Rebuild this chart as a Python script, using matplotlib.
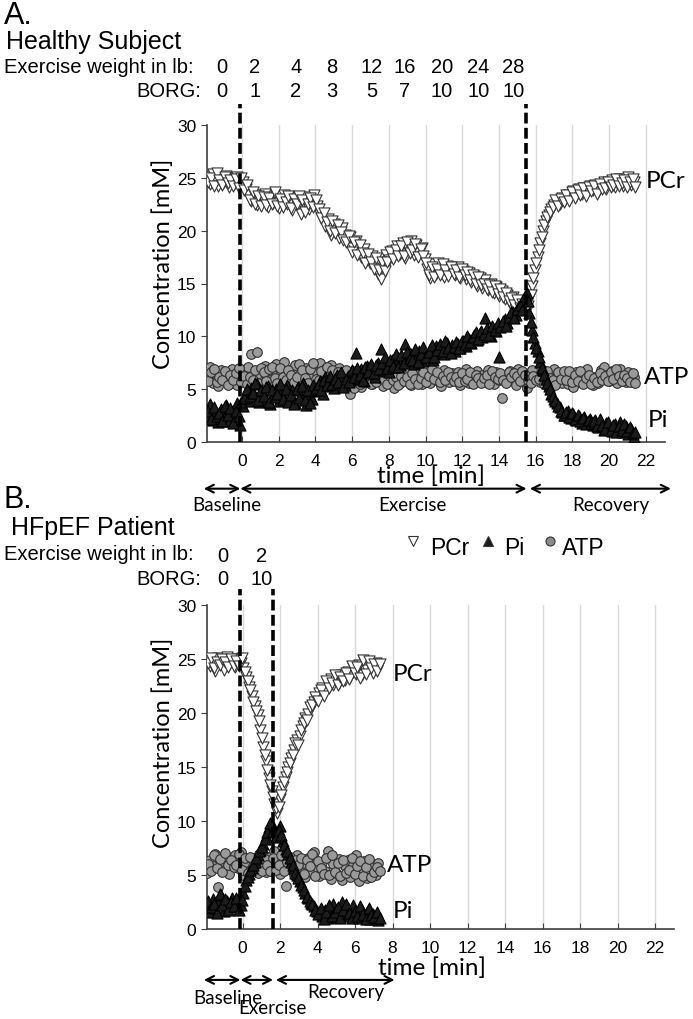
import numpy as np
import matplotlib.pyplot as plt
from matplotlib.lines import Line2D

plt.rcParams['font.family'] = ['Liberation Sans', 'DejaVu Sans']

# Healthy subject, one sample every 0.15 min from -1.9 min
pcr_a = [25.1, 24.4, 25.3, 24.7, 24.2, 25.0, 24.6, 25.2, 24.1, 24.9,
         24.5, 25.1, 24.3, 24.6, 23.9, 23.5, 22.8, 23.4, 22.4, 23.1,
         22.7, 23.5, 22.2, 23.0, 22.6, 23.3, 22.1, 22.9, 23.4, 22.5,
         22.8, 21.9, 23.1, 22.4, 21.6, 22.7, 23.2, 22.0, 22.8, 23.4,
         22.3, 21.5, 21.0, 20.4, 21.1, 19.6, 20.6, 20.0, 19.3, 20.2,
         19.6, 18.8, 19.4, 18.4, 19.0, 18.2, 17.5, 18.3, 17.2, 16.9,
         17.6, 16.8, 15.9, 15.4, 16.9, 17.7, 17.2, 18.1, 17.5, 18.5,
         17.8, 18.8, 17.4, 18.3, 19.0, 17.7, 18.6, 17.9, 18.4, 17.3,
         16.4, 15.5, 16.8, 15.9, 16.9, 16.2, 15.6, 16.7, 16.0, 16.5,
         15.8, 16.6, 15.5, 16.2, 15.4, 16.0, 15.1, 15.7, 14.8, 15.5,
         14.6, 15.3, 14.4, 15.0, 14.1, 14.7, 13.8, 14.3, 13.5, 13.9,
         13.2, 13.7, 12.9, 13.3, 12.6, 12.9, 12.4, 13.5, 14.8, 16.3,
         17.5, 18.8, 20.0, 20.9, 21.5, 22.0, 22.4, 22.7, 22.5, 23.1,
         22.9, 23.4, 23.2, 23.7, 23.3, 23.9, 23.5, 24.0, 23.6, 24.2,
         23.8, 24.3, 23.6, 24.1, 24.6, 23.9, 24.4, 24.8, 24.1, 24.5,
         24.9, 24.2, 24.7, 25.1, 24.3, 24.6]
pi_a = [2.4, 3.6, 2.1, 2.9, 1.9, 3.1, 2.3, 3.5, 2.0, 2.7,
        2.2, 3.7, 1.6, 3.4, 4.6, 3.9, 5.1, 4.3, 5.5, 3.8,
        4.8, 4.1, 5.3, 3.6, 4.5, 5.0, 3.9, 4.7, 4.2, 5.4,
        4.0, 4.9, 3.7, 5.2, 4.4, 5.6, 3.5, 4.6, 4.1, 4.8,
        5.0, 5.8, 4.6, 6.2, 5.3, 6.0, 5.1, 6.4, 5.6, 6.1,
        5.4, 6.3, 5.9, 6.6, 8.4, 6.0, 6.9, 5.8, 7.2, 6.5,
        7.0, 6.2, 7.5, 8.8, 6.7, 7.3, 6.6, 7.8, 7.1, 7.6,
        7.3, 8.0, 9.3, 7.6, 8.3, 7.4, 8.1, 8.6, 7.7, 8.4,
        8.0, 8.8, 7.8, 9.1, 8.4, 9.0, 8.3, 9.4, 8.7, 9.2,
        8.6, 9.3, 8.9, 9.6, 9.1, 9.8, 9.4, 10.1, 9.7, 10.3,
        9.9, 11.7, 10.4, 10.0, 10.7, 10.5, 8.1, 11.2, 11.6, 11.3,
        11.9, 12.3, 12.0, 12.7, 13.1, 13.5, 14.1, 12.2, 10.6, 9.4,
        8.6, 7.6, 6.8, 6.0, 5.3, 4.6, 4.1, 3.7, 3.3, 2.9,
        2.6, 3.0, 2.3, 2.7, 2.1, 2.5, 1.8, 2.4, 1.9, 2.2,
        1.6, 2.1, 1.4, 1.9, 1.2, 1.8, 1.5, 1.1, 1.7, 1.3,
        1.9, 1.0, 1.5, 0.8, 1.3, 0.5]
atp_a = [6.2, 7.1, 5.6, 6.5, 5.3, 6.8, 5.9, 6.3, 5.5, 6.9,
         6.0, 5.4, 6.6, 5.8, 6.9, 7.1, 8.3, 6.2, 8.5, 6.4,
         5.7, 7.2, 6.4, 5.9, 6.8, 7.4, 6.0, 6.5, 7.6, 6.3,
         5.8, 6.9, 7.3, 6.1, 5.5, 6.6, 7.0, 5.9, 6.4, 7.2,
         6.5, 7.5, 6.2, 6.9, 5.6, 7.3, 6.4, 5.8, 7.0, 6.1,
         5.4, 6.3, 4.6, 6.7, 5.7, 6.3, 5.2, 6.8, 5.9, 6.1,
         5.5, 6.4, 5.8, 6.9, 5.3, 6.2, 5.7, 6.6, 5.1, 6.0,
         5.6, 6.5, 5.9, 6.8, 5.4, 6.1, 5.8, 6.7, 5.5, 6.3,
         6.0, 5.6, 6.7, 5.9, 6.4, 5.3, 6.8, 6.1, 5.7, 6.5,
         5.9, 6.6, 5.4, 6.2, 6.9, 5.6, 6.3, 5.8, 6.7, 6.0,
         6.4, 5.7, 6.8, 6.1, 5.5, 6.6, 5.9, 4.2, 6.3, 5.8,
         6.7, 6.0, 5.4, 6.9, 6.2, 5.7, 5.1, 6.5, 6.8, 6.1,
         6.3, 5.7, 6.8, 6.0, 5.4, 6.5, 6.9, 5.8, 6.2, 5.6,
         6.4, 5.5, 6.1, 5.2, 6.6, 5.9, 6.3, 5.7, 6.9, 6.0,
         5.4, 6.2, 5.6, 6.8, 7.1, 6.4, 5.8, 6.7, 6.2, 5.6,
         6.9, 6.3, 5.7, 6.6, 6.0, 6.2]

# healthy subject, the in-between samples (0.075 min later)
pcr_a2 = [24.6, 25.0, 24.2, 25.4, 24.8, 24.3, 25.1, 24.5, 24.8, 24.2,
          24.9, 24.0, 25.0, 23.8, 24.3, 22.9, 23.6, 22.5, 23.3, 22.3,
          23.2, 22.4, 23.1, 22.5, 23.6, 22.3, 23.0, 22.2, 22.7, 23.3,
          22.1, 23.0, 22.5, 23.3, 22.9, 21.8, 22.5, 23.1, 22.2, 22.9,
          22.0, 21.2, 21.7, 20.8, 20.0, 20.9, 19.8, 20.5, 19.9, 19.1,
          18.9, 19.5, 18.0, 18.9, 17.7, 18.6, 17.9, 16.9, 17.8, 17.0,
          16.4, 17.4, 16.3, 17.0, 16.2, 17.0, 18.0, 17.3, 18.2, 17.6,
          18.5, 17.6, 18.9, 17.9, 18.2, 18.7, 17.5, 18.3, 17.6, 16.9,
          15.8, 16.6, 15.6, 16.4, 15.8, 16.8, 16.3, 15.7, 16.6, 15.9,
          16.3, 15.6, 16.4, 15.8, 16.1, 15.3, 15.8, 15.0, 15.6, 14.9,
          15.0, 14.5, 14.9, 14.2, 14.8, 14.0, 14.5, 13.7, 14.1, 13.3,
          13.6, 13.0, 13.4, 12.7, 13.1, 12.6, 12.9, 13.9, 15.5, 16.9,
          18.2, 19.4, 20.5, 21.3, 21.8, 22.2, 22.9, 22.3, 23.0, 22.7,
          23.4, 22.8, 23.6, 23.1, 23.8, 23.4, 24.0, 23.3, 24.1, 23.7,
          24.2, 23.5, 24.4, 23.9, 24.0, 24.6, 24.1, 24.3, 24.9, 24.2,
          24.5, 24.8, 24.1, 24.6, 24.9, 24.1]
pi_a2 = [3.0, 2.2, 3.3, 2.5, 2.8, 2.0, 3.4, 2.6, 3.2, 1.8,
         3.0, 2.5, 3.8, 4.2, 5.0, 4.4, 4.7, 5.6, 4.0, 4.9,
         4.4, 5.2, 3.8, 4.9, 4.3, 4.6, 5.5, 4.1, 5.0, 3.8,
         4.5, 3.6, 5.0, 4.2, 5.3, 4.0, 4.9, 3.7, 5.4, 5.1,
         5.5, 4.9, 5.9, 5.4, 6.3, 5.5, 6.0, 5.7, 6.6, 5.2,
         6.0, 5.7, 6.8, 6.2, 7.0, 6.4, 5.9, 7.1, 6.6, 7.4,
         6.5, 7.3, 6.9, 7.5, 8.1, 7.0, 7.8, 7.2, 8.3, 7.1,
         8.2, 7.5, 8.5, 8.0, 7.8, 8.8, 7.6, 8.3, 9.0, 8.1,
         8.5, 9.2, 8.1, 8.7, 9.3, 8.6, 9.6, 8.9, 8.4, 9.0,
         9.5, 8.9, 9.6, 9.3, 10.0, 9.5, 9.9, 10.4, 9.8, 10.5,
         10.2, 10.8, 10.1, 11.0, 10.6, 11.3, 10.9, 11.5, 11.0, 11.8,
         12.3, 11.7, 12.6, 13.0, 12.5, 13.8, 13.3, 11.4, 9.9, 8.9,
         8.1, 7.0, 6.4, 5.6, 5.0, 4.4, 3.9, 3.4, 3.0, 2.6,
         2.9, 2.4, 2.8, 2.2, 2.6, 2.0, 2.3, 1.7, 2.1, 1.8,
         2.0, 1.5, 2.2, 1.6, 1.3, 1.9, 1.2, 1.6, 1.0, 1.5,
         1.2, 1.7, 1.1, 1.4, 0.9, 1.0]
atp_a2 = [5.8, 6.6, 6.9, 5.7, 6.2, 5.9, 6.7, 5.4, 6.4, 5.9,
          6.5, 7.0, 5.7, 6.3, 5.5, 6.2, 5.9, 6.8, 5.6, 7.0,
          6.6, 5.8, 6.9, 7.1, 6.1, 5.6, 7.0, 6.2, 5.9, 6.8,
          6.4, 5.7, 6.2, 7.4, 6.8, 6.1, 5.6, 6.9, 7.5, 6.0,
          5.9, 6.7, 5.8, 7.1, 6.3, 6.8, 5.7, 6.6, 6.3, 5.6,
          6.8, 5.9, 6.4, 5.1, 6.2, 5.5, 6.5, 5.8, 6.4, 5.5,
          6.2, 5.7, 6.5, 6.0, 6.7, 5.5, 6.3, 5.9, 6.2, 5.4,
          6.3, 5.8, 6.2, 5.5, 6.5, 6.0, 5.5, 6.1, 6.6, 5.7,
          6.3, 6.9, 6.0, 6.6, 5.7, 6.3, 5.9, 6.6, 6.2, 5.8,
          6.2, 5.7, 6.5, 5.8, 6.0, 6.6, 5.5, 6.4, 6.1, 5.6,
          6.1, 6.4, 5.5, 6.7, 6.2, 6.0, 6.5, 5.9, 5.6, 6.6,
          6.2, 6.5, 6.3, 5.8, 6.7, 6.4, 5.9, 5.6, 6.3, 5.9,
          6.0, 6.6, 5.5, 6.7, 6.1, 5.9, 5.4, 6.6, 6.0, 6.7,
          5.9, 6.7, 5.7, 6.4, 5.8, 6.7, 5.5, 6.1, 6.4, 5.5,
          6.1, 5.7, 6.5, 5.9, 6.3, 5.8, 6.6, 6.0, 6.9, 6.3,
          5.8, 6.4, 6.1, 5.7, 6.5, 5.6]

# HFpEF patient, same sampling
pcr_b = [25.0, 24.3, 24.8, 23.9, 25.1, 24.5, 24.0, 25.2, 24.4, 24.9,
         24.2, 25.0, 24.6, 24.1, 23.3, 22.4, 21.6, 20.6, 19.8, 18.4,
         16.8, 15.5, 14.0, 12.8, 11.6, 10.7, 12.0, 13.1, 14.1, 15.0,
         15.8, 16.6, 17.5, 17.9, 18.8, 19.5, 19.9, 20.4, 21.0, 21.3,
         21.8, 22.3, 21.9, 22.7, 23.1, 22.6, 23.4, 22.8, 23.5, 23.0,
         23.8, 23.3, 24.1, 23.6, 24.4, 23.5, 24.7, 24.0, 24.3, 23.7,
         24.6, 24.1]
pi_b = [2.1, 1.6, 2.8, 1.9, 2.4, 3.1, 1.7, 2.6, 2.0, 2.9,
        2.3, 2.7, 2.2, 3.3, 4.5, 5.1, 5.6, 6.2, 6.8, 7.3,
        7.9, 8.6, 9.4, 9.7, 9.2, 8.8, 9.5, 8.1, 7.4, 6.9,
        6.2, 5.6, 5.0, 4.4, 3.9, 3.3, 2.9, 2.4, 2.1, 1.7,
        1.5, 1.2, 1.8, 1.0, 1.4, 2.3, 1.1, 1.7, 2.5, 1.3,
        1.9, 1.2, 2.2, 1.5, 1.0, 1.8, 1.3, 1.6, 0.9, 1.4,
        1.2, 0.8]
atp_b = [5.2, 6.4, 5.8, 6.9, 3.9, 6.1, 5.5, 6.7, 5.1, 6.3,
         6.8, 5.6, 7.1, 5.0, 6.2, 5.4, 6.6, 5.9, 5.2, 6.5,
         6.0, 5.3, 6.7, 5.8, 7.2, 6.4, 5.1, 6.9, 4.0, 5.6,
         6.3, 5.0, 6.8, 5.5, 6.1, 4.8, 6.6, 5.3, 7.1, 5.7,
         4.9, 6.2, 5.4, 7.2, 4.6, 6.0, 5.2, 6.5, 4.5, 5.8,
         6.4, 4.8, 5.9, 6.8, 4.4, 5.6, 6.3, 4.7, 5.5, 6.0,
         5.0, 6.1]

pcr_b2 = [24.6, 25.1, 24.1, 24.7, 24.4, 25.0, 24.7, 24.2, 25.0, 24.3,
          24.8, 24.3, 25.1, 23.8, 22.9, 22.1, 21.0, 20.2, 19.2, 17.7,
          16.1, 14.7, 13.3, 12.2, 11.2, 11.3, 12.4, 13.6, 14.5, 15.4,
          16.1, 17.2, 17.0, 18.4, 19.1, 19.3, 20.5, 20.7, 21.5, 21.1,
          22.1, 21.6, 22.9, 22.3, 22.8, 23.5, 22.6, 23.3, 22.9, 23.7,
          23.1, 24.3, 23.7, 24.2, 23.2, 24.9, 23.6, 24.8, 24.1, 24.5,
          23.9, 24.5]
pi_b2 = [2.6, 2.0, 2.3, 1.5, 3.2, 2.2, 2.8, 1.8, 2.5, 2.1,
         2.9, 1.8, 2.7, 4.0, 4.8, 5.5, 5.9, 6.6, 7.2, 7.6,
         8.3, 9.0, 9.8, 9.1, 8.5, 9.2, 8.7, 7.8, 7.2, 6.6,
         5.9, 5.2, 4.7, 4.1, 3.6, 3.0, 2.6, 2.3, 1.8, 1.4,
         1.9, 0.9, 1.6, 2.2, 1.2, 1.6, 2.0, 1.0, 1.8, 2.3,
         1.5, 1.0, 1.7, 1.2, 2.1, 1.4, 0.9, 1.9, 1.3, 1.1,
         1.6, 1.0]
atp_b2 = [6.0, 5.4, 6.8, 5.6, 6.5, 5.3, 7.0, 5.9, 6.4, 5.7,
          5.9, 6.9, 5.5, 6.6, 5.2, 6.7, 5.8, 6.2, 6.9, 5.4,
          6.5, 5.9, 5.4, 6.6, 5.5, 5.9, 6.8, 5.4, 6.2, 6.7,
          5.4, 6.4, 5.9, 6.6, 5.1, 6.4, 5.8, 6.9, 4.9, 6.3,
          5.6, 5.1, 6.6, 5.0, 6.8, 5.3, 6.1, 4.9, 6.4, 5.2,
          5.5, 6.6, 5.1, 5.8, 6.3, 4.9, 5.7, 6.5, 4.8, 5.3,
          5.7, 5.4]

weight_a = ["0", "2", "4", "8", "12", "16", "20", "24", "28"]
borg_a = ["0", "1", "2", "3", "5", "7", "10", "10", "10"]
weight_b = ["0", "2"]
borg_b = ["0", "10"]

# sampling grid: 0.15 min steps, second set shifted by half a step
t_a = -1.9 + 0.15 * np.arange(len(pcr_a))
t_b = -1.9 + 0.15 * np.arange(len(pcr_b))
t_all_a = np.concatenate([t_a, t_a + 0.075])
t_all_b = np.concatenate([t_b, t_b + 0.075])

W, H = 693, 1020
fig = plt.figure(figsize=(W / 100, H / 100), dpi=100)


def fx(px):
    return px / W


def fy(py):
    return 1 - py / H


CAL = ['Lato', 'DejaVu Sans']

ax_a = fig.add_axes([fx(206.7), fy(443.3), (665 - 206.7) / W, (443.3 - 125.7) / H])
ax_b = fig.add_axes([fx(206.7), fy(930), (674 - 206.7) / W, (930 - 605.7) / H])


def panel(ax, t, pcr, pi, atp, xlim, dash_x, dash_top):
    ax.scatter(t, pcr, marker='v', s=64, facecolor='white', edgecolor='#333333',
               linewidths=0.8, zorder=3)
    ax.scatter(t, atp, marker='o', s=48, facecolor='#9a9a9a', edgecolor='#303030',
               linewidths=0.8, zorder=3.5)
    ax.scatter(t, pi, marker='^', s=64, facecolor='#1c1c1c', edgecolor='black',
               linewidths=0.8, zorder=4)
    for x in dash_x:
        ax.axvline(x, ymin=0, ymax=dash_top, color='black', lw=2.6,
                   ls=(0, (3, 1.2)), clip_on=False, zorder=5)
    ax.set_xlim(*xlim)
    ax.set_ylim(0, 30)
    ax.set_xticks(range(0, 23, 2))
    ax.set_yticks(range(0, 31, 5))
    ax.grid(axis='x', color='#d9d9d9', lw=1)
    ax.set_axisbelow(True)
    for s in ['top', 'right']:
        ax.spines[s].set_visible(False)
    for s in ['left', 'bottom']:
        ax.spines[s].set_color('#404040')
        ax.spines[s].set_linewidth(1.2)
    ax.tick_params(axis='x', direction='in', length=4, labelsize=12.5, pad=8,
                   color='#404040')
    ax.tick_params(axis='y', direction='out', length=4, labelsize=12.5,
                   color='#404040')
    ax.set_ylabel('Concentration [mM]', fontsize=17, family=CAL)
    ax.set_xlabel('time [min]', fontsize=17.5, family=CAL)


panel(ax_a, t_all_a, pcr_a + pcr_a2, pi_a + pi_a2, atp_a + atp_a2,
      (-1.92, 23.04), [-0.1, 15.46], 1.065)
panel(ax_b, t_all_b, pcr_b + pcr_b2, pi_b + pi_b2, atp_b + atp_b2,
      (-1.91, 23.01), [-0.13, 1.64], 1.048)

ax_a.yaxis.set_label_coords(-0.072, 0.565)
ax_a.xaxis.set_label_coords(0.489, -0.068)
ax_b.yaxis.set_label_coords(-0.071, 0.577)
ax_b.xaxis.set_label_coords(0.482, -0.084)

# series labels at the right
for ax, pos in [(ax_a, [(22.0, 24.7, 'PCr'), (21.9, 6.2, 'ATP'), (22.1, 2.2, 'Pi')]),
                (ax_b, [(8.0, 23.6, 'PCr'), (7.7, 6.0, 'ATP'), (8.0, 1.7, 'Pi')])]:
    for x, y, s in pos:
        ax.text(x, y, s, fontsize=17.5, family=CAL, va='center', clip_on=False)

# phase arrows
arrow = dict(arrowstyle='<->', color='black', lw=1.5, shrinkA=0, shrinkB=0,
             mutation_scale=14)
for ax, y, segs, labels in [
        (ax_a, -0.146, [(-2.08, -0.09), (-0.09, 15.5), (15.68, 23.36)],
         [(-0.82, -0.196, 'Baseline'), (9.3, -0.196, 'Exercise'), (20.1, -0.196, 'Recovery')]),
        (ax_b, -0.157, [(-2.06, -0.11), (-0.11, 1.63), (1.78, 8.11)],
         [(-0.8, -0.21, 'Baseline'), (1.57, -0.243, 'Exercise'), (5.52, -0.194, 'Recovery')])]:
    for x0, x1 in segs:
        ax.annotate('', xy=(x1, y), xytext=(x0, y), xycoords=('data', 'axes fraction'),
                    textcoords=('data', 'axes fraction'), arrowprops=arrow,
                    annotation_clip=False)
    for x, yy, s in labels:
        ax.annotate(s, xy=(x, yy), xycoords=('data', 'axes fraction'), ha='center',
                    va='center', fontsize=13.5, family=CAL, annotation_clip=False)

# headers
fig.text(fx(4), fy(24), 'A.', fontsize=22, va='baseline')
fig.text(fx(6), fy(49), 'Healthy Subject', fontsize=18, va='baseline')
fig.text(fx(194), fy(73), 'Exercise weight in lb:', fontsize=14.5, va='baseline', ha='right')
fig.text(fx(201), fy(97), 'BORG:', fontsize=14.5, va='baseline', ha='right')
xs_a = [221.7, 254.6, 296, 332, 372, 405, 442, 478.5, 513.6]
for x, w, b in zip(xs_a, weight_a, borg_a):
    fig.text(fx(x), fy(73), w, fontsize=14.5, va='baseline', ha='center')
    fig.text(fx(x), fy(97), b, fontsize=14.5, va='baseline', ha='center')

fig.text(fx(4), fy(508), 'B.', fontsize=22, va='baseline')
fig.text(fx(11), fy(535), 'HFpEF Patient', fontsize=18, va='baseline')
fig.text(fx(194), fy(560), 'Exercise weight in lb:', fontsize=14.5, va='baseline', ha='right')
fig.text(fx(201), fy(585), 'BORG:', fontsize=14.5, va='baseline', ha='right')
for x, w, b in zip([223, 262], weight_b, borg_b):
    fig.text(fx(x), fy(562), w, fontsize=14.5, va='baseline', ha='center')
    fig.text(fx(x), fy(585), b, fontsize=14.5, va='baseline', ha='center')

# legend
leg = [('v', 'white', 413, 'PCr', 430), ('^', '#1c1c1c', 488, 'Pi', 504),
       ('o', '#8a8a8a', 550, 'ATP', 562)]
for m, fc, mx, s, tx in leg:
    fig.add_artist(Line2D([fx(mx)], [fy(542)], marker=m, markersize=6.5,
                          markerfacecolor=fc, markeredgecolor='#333333',
                          markeredgewidth=0.8, transform=fig.transFigure))
    fig.text(fx(tx), fy(555), s, fontsize=16.5, va='baseline')

fig.savefig('out.png', dpi=100)
